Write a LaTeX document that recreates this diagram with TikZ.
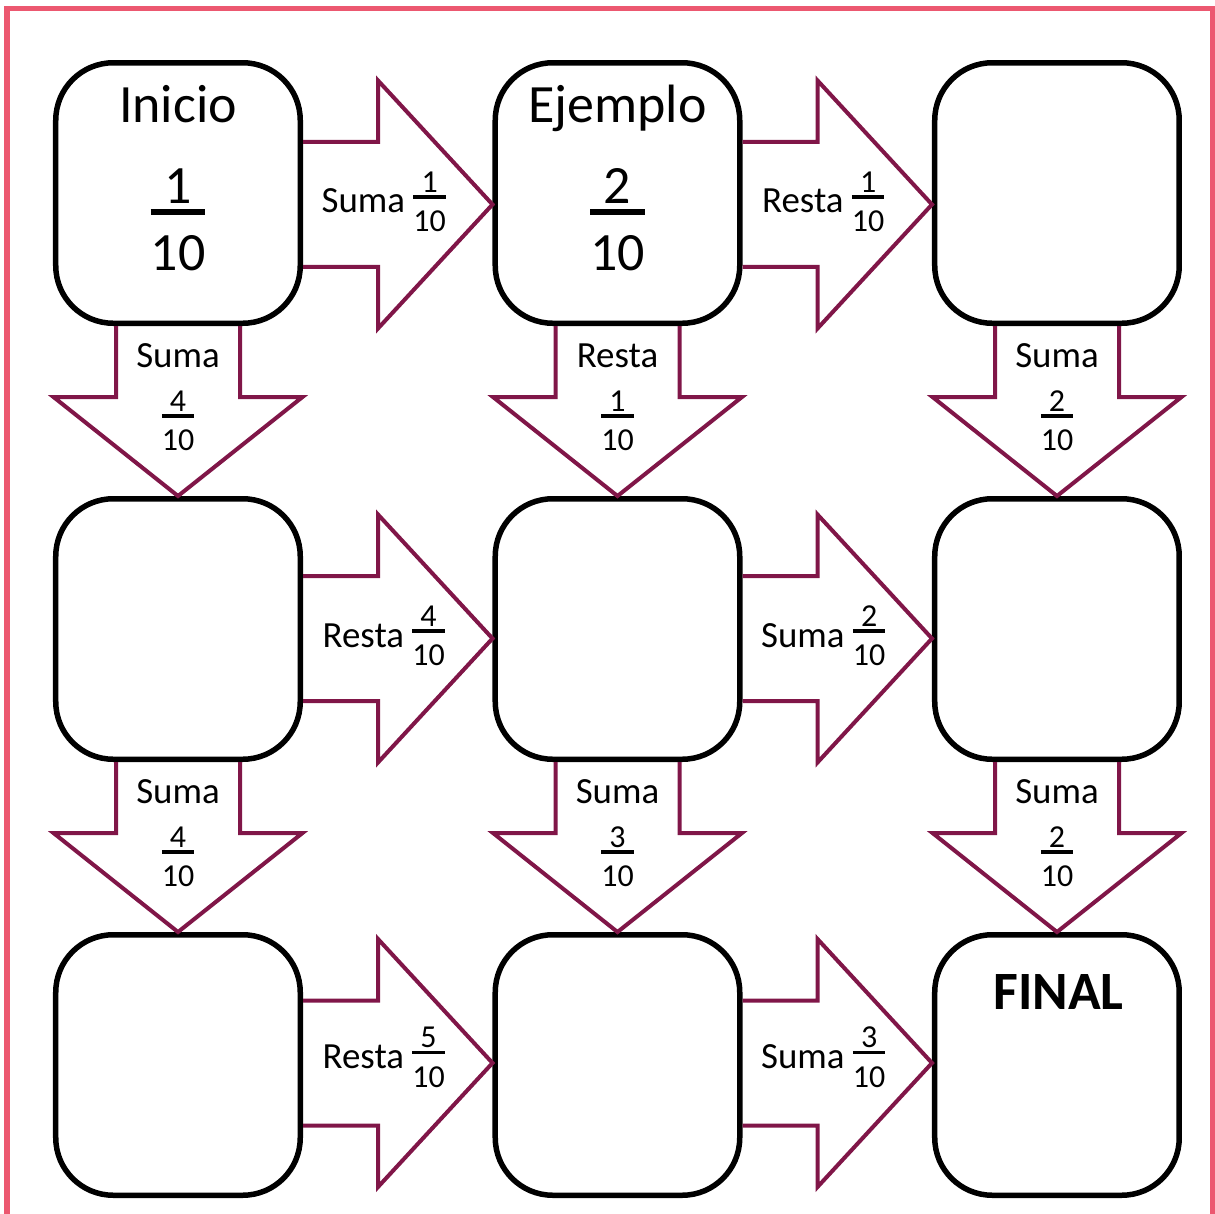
\documentclass[tikz,border=0pt]{standalone}
\usepackage{fontspec}
\setmainfont{Carlito}
\usetikzlibrary{
  matrix,
  calc,
  positioning}
\definecolor{marco}{RGB}{236,88,112}
\definecolor{flecha}{RGB}{128,22,72}
\newcommand{\fr}[3][18.2]{{\fontsize{#1}{#1}\selectfont\setbox0=\hbox{#3}%
  \lower0.59em\vbox{\hbox to\wd0{\hss#2\hss}\kern0.1em\hrule height0.1em\kern0.39em\box0}}}

\begin{document}
\begin{tikzpicture}[
  box/.style={draw,line width=0.11cm,rounded corners=1.15cm,minimum width=4.89cm,minimum height=5.21cm,inner sep=0pt},
  arrowblk/.style={draw=flecha,line width=0.08cm},
  lbl/.style={anchor=base,inner sep=0pt,font=\fontsize{21}{25}\selectfont},
  big/.style={anchor=base,inner sep=0pt,font=\fontsize{30.7}{36}\selectfont},
  ampersand replacement=\&
]%
  \useasboundingbox (0,0) rectangle (24.3,-24.28);
  \draw[marco,line width=0.11cm] (0.14,-24.6) |- (24.26,-0.17) -- (24.26,-24.6);

  \matrix (mB) [matrix of nodes,nodes={box},nodes in empty cells,column sep=3.79cm,row sep=3.4cm] at (12.35,-12.58)
  {
    |(b11)| \& |(b12)| \& |(b13)| \\
    |(b21)| \& |(b22)| \& |(b23)| \\
    |(b31)| \& |(b32)| \& |(b33)| \\
  };

  \node[big] (t11) at ($(b11.center)+(0,1.4)$)   {Inicio};
  \node[big] (f11) at ($(b11.center)+(0,-0.92)$) {\fr[30.7]{1}{10}};
  \node[big] (t12) at ($(b12.center)+(0,1.4)$)   {Ejemplo};
  \node[big] (f12) at ($(b12.center)+(0,-0.92)$) {\fr[30.7]{2}{10}};
  \node[big,font=\fontsize{30.7}{36}\selectfont\bfseries] (t33) at ($(b33.center)+(0.03,1.12)$) {FINAL};

  % horizontal arrows
  \draw[arrowblk] ($(b11.east)+(0,1.02)$) -- ++(1.5,0) -- ++(0,1.23) -- ($(b12.west)+(0,-0.23)$) -- ++(-2.29,-2.48) -- ++(0,1.23) -- ($(b11.east)+(0,-1.48)$);
  \draw[arrowblk] ($(b12.east)+(0,1.02)$) -- ++(1.5,0) -- ++(0,1.23) -- ($(b13.west)+(0,-0.23)$) -- ++(-2.29,-2.48) -- ++(0,1.23) -- ($(b12.east)+(0,-1.48)$);
  \draw[arrowblk] ($(b21.east)+(0,1.06)$) -- ++(1.5,0) -- ++(0,1.23) -- ($(b22.west)+(0,-0.19)$) -- ++(-2.29,-2.48) -- ++(0,1.23) -- ($(b21.east)+(0,-1.44)$);
  \draw[arrowblk] ($(b22.east)+(0,1.06)$) -- ++(1.5,0) -- ++(0,1.23) -- ($(b23.west)+(0,-0.19)$) -- ++(-2.29,-2.48) -- ++(0,1.23) -- ($(b22.east)+(0,-1.44)$);
  \draw[arrowblk] ($(b31.east)+(0,1.29)$) -- ++(1.5,0) -- ++(0,1.23) -- ($(b32.west)+(0,0.04)$)  -- ++(-2.29,-2.48) -- ++(0,1.23) -- ($(b31.east)+(0,-1.21)$);
  \draw[arrowblk] ($(b32.east)+(0,1.29)$) -- ++(1.5,0) -- ++(0,1.23) -- ($(b33.west)+(0,0.04)$)  -- ++(-2.29,-2.48) -- ++(0,1.23) -- ($(b32.east)+(0,-1.21)$);

  % vertical arrows
  \draw[arrowblk] ($(b11.south)+(-1.24,0)$) -- ++(0,-1.42) -- ++(-1.25,0) -- (b21.north) -- ++(2.49,1.98) -- ++(-1.25,0) -- ($(b11.south)+(1.24,0)$);
  \draw[arrowblk] ($(b12.south)+(-1.24,0)$) -- ++(0,-1.42) -- ++(-1.25,0) -- (b22.north) -- ++(2.49,1.98) -- ++(-1.25,0) -- ($(b12.south)+(1.24,0)$);
  \draw[arrowblk] ($(b13.south)+(-1.24,0)$) -- ++(0,-1.42) -- ++(-1.25,0) -- (b23.north) -- ++(2.49,1.98) -- ++(-1.25,0) -- ($(b13.south)+(1.24,0)$);
  \draw[arrowblk] ($(b21.south)+(-1.24,0)$) -- ++(0,-1.42) -- ++(-1.25,0) -- (b31.north) -- ++(2.49,1.98) -- ++(-1.25,0) -- ($(b21.south)+(1.24,0)$);
  \draw[arrowblk] ($(b22.south)+(-1.24,0)$) -- ++(0,-1.42) -- ++(-1.25,0) -- (b32.north) -- ++(2.49,1.98) -- ++(-1.25,0) -- ($(b22.south)+(1.24,0)$);
  \draw[arrowblk] ($(b23.south)+(-1.24,0)$) -- ++(0,-1.42) -- ++(-1.25,0) -- (b33.north) -- ++(2.49,1.98) -- ++(-1.25,0) -- ($(b23.south)+(1.24,0)$);

  \node[lbl] (h11) at ($(b11.east)!0.5!(b12.west)+(-0.28,-0.4)$)  {Suma \fr{1}{10}};
  \node[lbl] (h12) at ($(b12.east)!0.5!(b13.west)+(-0.28,-0.4)$)  {Resta \fr{1}{10}};
  \node[lbl] (h21) at ($(b21.east)!0.5!(b22.west)+(-0.28,-0.36)$) {Resta \fr{4}{10}};
  \node[lbl] (h22) at ($(b22.east)!0.5!(b23.west)+(-0.28,-0.36)$) {Suma \fr{2}{10}};
  \node[lbl] (h31) at ($(b31.east)!0.5!(b32.west)+(-0.28,-0.07)$) {Resta \fr{5}{10}};
  \node[lbl] (h32) at ($(b32.east)!0.5!(b33.west)+(-0.28,-0.07)$) {Suma \fr{3}{10}};

  \node[lbl] (v11) at ($(b11.south)+(0,-0.82)$) {Suma};
  \node[lbl] (w11) at ($(b11.south)+(0,-2.12)$) {\fr{4}{10}};
  \node[lbl] (v12) at ($(b12.south)+(0,-0.82)$) {Resta};
  \node[lbl] (w12) at ($(b12.south)+(0,-2.12)$) {\fr{1}{10}};
  \node[lbl] (v13) at ($(b13.south)+(0,-0.82)$) {Suma};
  \node[lbl] (w13) at ($(b13.south)+(0,-2.12)$) {\fr{2}{10}};
  \node[lbl] (v21) at ($(b21.south)+(0,-0.82)$) {Suma};
  \node[lbl] (w21) at ($(b21.south)+(0,-2.12)$) {\fr{4}{10}};
  \node[lbl] (v22) at ($(b22.south)+(0,-0.82)$) {Suma};
  \node[lbl] (w22) at ($(b22.south)+(0,-2.12)$) {\fr{3}{10}};
  \node[lbl] (v23) at ($(b23.south)+(0,-0.82)$) {Suma};
  \node[lbl] (w23) at ($(b23.south)+(0,-2.12)$) {\fr{2}{10}};

\end{tikzpicture}
\end{document}
